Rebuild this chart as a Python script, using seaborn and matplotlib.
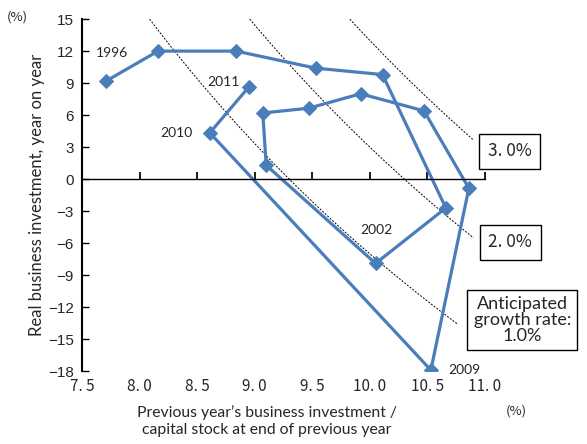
import matplotlib
matplotlib.use('Agg')
import matplotlib.pyplot as plt
import seaborn as sns
import numpy as np
import pandas as pd

# Data
years = list(range(1996, 2012))
ik_ratio = [7.71, 8.16, 8.84, 9.53, 10.11, 10.66, 10.05, 9.10,
            9.07, 9.47, 9.92, 10.47, 10.86, 10.53, 8.61, 8.95]
inv_growth = [9.2, 12.0, 12.0, 10.4, 9.8, -2.7, -7.9, 1.3,
              6.2, 6.65, 8.0, 6.4, -0.85, -17.9, 4.34, 8.65]

# Iso-growth curves: growth = ik * (1 + y/100) - depreciation
growth_rates = [1.0, 2.0, 3.0]
depreciation = 8.3
curve_end_x = [10.76, 10.90, 10.90]
curve_labels = ["Anticipated\ngrowth rate:\n1.0%", "2. 0%", "3. 0%"]

labeled_years = [1996, 2011, 2010, 2002, 2009]
label_pos = [(7.76, 11.8), (8.73, 9.1), (8.32, 4.3), (10.06, -4.8), (10.82, -17.9)]

xticks = [7.5, 8.0, 8.5, 9.0, 9.5, 10.0, 10.5, 11.0]
yticks = [15, 12, 9, 6, 3, 0, -3, -6, -9, -12, -15, -18]

df = pd.DataFrame({"year": years, "ik": ik_ratio, "growth": inv_growth})

sns.set_theme(style="white")
plt.rcParams['font.family'] = ['Lato', 'DejaVu Sans']

fig = plt.figure(figsize=(5.87, 4.44), dpi=100)
ax = fig.add_axes([0.1397, 0.164, 0.6865, 0.793])

blue = '#4A7EBB'
sns.lineplot(data=df, x="ik", y="growth", sort=False, color=blue, linewidth=2.3,
             marker='D', markersize=7.5, markeredgecolor=blue, ax=ax)

# dashed iso-growth curves
for g, xe in zip(growth_rates, curve_end_x):
    c = g + depreciation
    x0 = c / 1.15  # where curve hits top of axis (y = 15)
    xs = np.linspace(x0, xe, 60)
    ax.plot(xs, 100 * c / xs - 100, color='black', linestyle=(0, (2, 1.5)),
            linewidth=0.7, zorder=1)

ax.set_xlim(7.5, 11.0)
ax.set_ylim(-18, 15)
ax.set_yticks(yticks)
ax.set_yticklabels([f"{v}".replace('-', '\u2212') for v in yticks],
                   fontsize=11, family=['Liberation Sans Narrow', 'Liberation Sans'])
ax.tick_params(axis='y', direction='in', length=5, width=1, color='black',
               left=True, pad=6)

# x axis drawn at zero, labels at the bottom
for s in ['top', 'right']:
    ax.spines[s].set_visible(False)
ax.spines['left'].set_linewidth(1.5)
ax.spines['left'].set_color('black')
ax.spines['bottom'].set_position(('data', 0))
ax.spines['bottom'].set_color('black')
ax.spines['bottom'].set_linewidth(1.0)
ax.set_xticks(xticks)
ax.tick_params(axis='x', direction='in', length=5, color='black', bottom=True,
               labelbottom=False)

sec = ax.secondary_xaxis(-0.0)
sec.set_xticks(xticks)
sec.set_xticklabels([f"{v:.1f}".replace('.', '. ') for v in xticks], fontsize=11,
                    family=['Noto Sans CJK JP'])
sec.tick_params(length=0, pad=5)
sec.spines['bottom'].set_visible(False)

ax.set_xlabel("")
ax.set_ylabel("Real business investment, year on year", fontsize=12, labelpad=2)
fig.text(0.455, 0.052, "Previous year\u2019s business investment /\ncapital stock at end of previous year",
         ha='center', va='center', fontsize=11.3, linespacing=1.25)
fig.text(0.012, 0.962, "(%)", fontsize=9.5, va='center',
         family=['Noto Sans CJK JP'])
fig.text(0.862, 0.075, "(%)", fontsize=9.5, va='center',
         family=['Noto Sans CJK JP'])

for yr, (lx, ly) in zip(labeled_years, label_pos):
    ax.text(lx, ly, str(yr), fontsize=10, ha='center', va='center',
            bbox=dict(facecolor='white', edgecolor='none', pad=0.5))

# label boxes for the curves
box_font = [13, 12.5, 12.5]
box_pos = [(0.89, 0.279), (0.869, 0.454), (0.868, 0.659)]
box_pad = ['square,pad=0.35', 'square,pad=0.5', 'square,pad=0.5']
for lab, (bx, by), fs, bp in zip(curve_labels, box_pos, box_font, box_pad):
    fig.text(bx, by, lab, ha='center', va='center', fontsize=fs, linespacing=1.0,
             family=['Noto Sans CJK JP'] if '. ' in lab else ['Lato'],
             bbox=dict(facecolor='white', edgecolor='black', linewidth=1,
                       boxstyle=bp))

fig.savefig("out.png", dpi=100)
